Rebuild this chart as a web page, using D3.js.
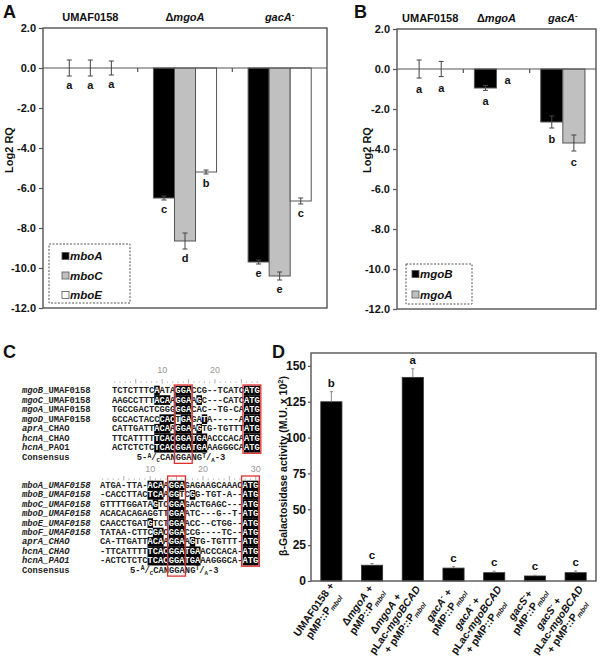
<!DOCTYPE html>
<html><head><meta charset="utf-8">
<script src="https://cdn.jsdelivr.net/npm/d3@7"></script>
<style>body{margin:0;background:#fff}svg{display:block}</style>
</head><body>
<svg id="fig" width="600" height="656"></svg>
<script>
// ================= DATA =================
// Panel A
const groupsA = ["UMAF0158", "Δ*mgoA*", "*gacA*^-^"];
const seriesA = ["mboA", "mboC", "mboE"];
const mboA = [0, -6.5, -9.7];
const mboC = [0, -8.65, -10.4];
const mboE = [0, -5.2, -6.65];
const errMboA = [0.4, 0.1, 0.1];
const errMboC = [0.4, 0.4, 0.2];
const errMboE = [0.35, 0.1, 0.15];
const letMboA = ["a", "c", "e"];
const letMboC = ["a", "d", "e"];
const letMboE = ["a", "b", "c"];
// Panel B
const groupsB = ["UMAF0158", "Δ*mgoA*", "*gacA*^-^"];
const seriesB = ["mgoB", "mgoA"];
const mgoB = [0, -0.95, -2.65];
const mgoA = [0, 0, -3.7];
const errMgoB = [0.45, 0.12, 0.3];
const errMgoA = [0.38, 0, 0.4];
const letMgoB = ["a", "a", "b"];
const letMgoA = ["a", "a", "c"];
const rqTicks = [-12, -10, -8, -6, -4, -2, 0, 2];
// Panel C
const topNames = ["*mgoB*_UMAF0158", "*mgoC*_UMAF0158", "*mgoA*_UMAF0158", "*mgoD*_UMAF0158", "*aprA*_CHAO", "*hcnA*_CHAO", "*hcnA*_PAO1"];
const topSeqs = [
  "TCTCTTTCAATAGGACCG--TCATCATG",
  "AAGCCTTTACAAGGAAGC---CATCATG",
  "TGCCGACTCGGGGGACAC--TG-CAATG",
  "GCCACTACCCACTGAGATA-----AATG",
  "CATTGATTACAAGGAAGTG-TGTTTATG",
  "TTCATTTTTCACGGATGAACCCACAATG",
  "ACTCTCTCTCACGGATGAAAGGGCAATG"];
const topMasks = [
  "........x...xxx..........xxx",
  "........xxx.xxx.x........xxx",
  "............xxx..........xxx",
  ".........xxx.xx..x.......xxx",
  "........xxx.xxx.x........xxx",
  "........xxxxxxxxxx.......xxx",
  "........xxxxxxxxxx.......xxx"];
const botNames = ["*mboA_UMAF0158*", "*mboB_UMAF0158*", "*mboC_UMAF0158*", "*mboD_UMAF0158*", "*mboE_UMAF0158*", "*mboF_UMAF0158*", "*aprA_CHAO*", "*hcnA_CHAO*", "*hcnA_PAO1*"];
const botSeqs = [
  "ATGA-TTA-ACAAGGAGAGAAGCAAACATG",
  "-CACCTTACTCAAGGTCGG-TGT-A--ATG",
  "GTTTTGGATAGTCGGAGACTGAGC---ATG",
  "ACACACAGAGGTTGGAATC---G--T-ATG",
  "CAACCTGATGTCTGGAACC--CTGG--ATG",
  "TATAA-CTTCGACGGACCG----TC--ATG",
  "CA-TTGATTACAAGGAAGTG-TGTTT-ATG",
  "-TTCATTTTTCACGGATGAACCCACA-ATG",
  "-ACTCTCTCTCACGGATGAAAGGGCA-ATG"];
const botMasks = [
  ".........xxx.xxx...........xxx",
  ".........xxx.xx..x.........xxx",
  "..........x..xxx...........xxx",
  ".............xxx...........xxx",
  ".........x...xxx...........xxx",
  "..........xx.xxx...........xxx",
  ".........xxx.xxx.x.........xxx",
  ".........xxxxxxxxxx........xxx",
  ".........xxxxxxxxxx........xxx"];
const consensus = "5-^A^/~C~CANGGANG^T^/~A~-3";
const topRulerNums = [10, 20];
const botRulerNums = [10, 20, 30];
const topBoxes = [[13, 15, true], [26, 28, false]];
const botBoxes = [[14, 16, true], [28, 30, false]];
// Panel D
const dLabels = [
  ["UMAF0158 +", "pMP::P~*mbol*~"],
  ["Δ*mgoA* +", "pMP::P~*mbol*~"],
  ["Δ*mgoA* +", "pLac-*mgoBCAD*", "+ pMP::P~*mbol*~"],
  ["*gacA*^-^ +", "pMP::P~*mbol*~"],
  ["*gacA*^-^ +", "pLac-*mgoBCAD*", "+ pMP::P~*mbol*~"],
  ["*gacS*^-^+", "pMP::P~*mbol*~"],
  ["*gacS*^-^ +", "pLac-*mgoBCAD*", "+ pMP::P~*mbol*~"]];
const dValues = [125, 11, 142, 9, 5.8, 3.5, 5.8];
const dErr = [7, 1.2, 6, 1, 1, 0.5, 1.2];
const dLetters = ["b", "c", "a", "c", "c", "c", "c"];
const dTicks = [0, 25, 50, 75, 100, 125, 150];

// ================= HELPERS =================
const SANS = "'Liberation Sans', Arial, sans-serif";
const MONO = "'Liberation Mono', 'Courier New', monospace";
const FRAME = "#555";
const TXT = "#111";
const svg = d3.select("#fig");

function parseRich(str) {
  const runs = []; let it = false, sup = false, sub = false, cur = "";
  const push = () => { if (cur) runs.push({t: cur, it, sup, sub}); cur = ""; };
  for (const ch of str) {
    if (ch === "*") { push(); it = !it; }
    else if (ch === "^") { push(); sup = !sup; }
    else if (ch === "~") { push(); sub = !sub; }
    else cur += ch;
  }
  push(); return runs;
}
function rich(text, str, size, supK = 0.38) {
  let shift = 0;
  parseRich(str).forEach(r => {
    const ts = text.append("tspan").text(r.t);
    if (r.it) ts.attr("font-style", "italic");
    let tgt = 0;
    if (r.sup) { tgt = -size * supK; ts.attr("font-size", size * 0.72); }
    if (r.sub) { tgt = size * 0.22; ts.attr("font-size", size * 0.65); }
    if (tgt - shift !== 0) ts.attr("dy", tgt - shift);
    shift = tgt;
  });
  return text;
}
function panelLetter(x, y, t) {
  svg.append("text").attr("x", x).attr("y", y).attr("font-family", SANS).attr("font-weight", "bold")
    .attr("font-size", 18).attr("fill", TXT).text(t);
}

// ================= PANELS A & B =================
function drawRQ(c) {
  const g = svg.append("g").attr("font-family", SANS).attr("font-weight", "bold").attr("fill", TXT);
  const y = d3.scaleLinear().domain([-12, 2]).range([c.yBot, c.yTop]);
  const xg = d3.scaleBand().domain(c.groups).range([c.xL, c.xR]);
  const xs = d3.scaleBand().domain(c.series).range([0, xg.bandwidth()]).paddingOuter(c.pad);

  const ax = g.append("g").attr("transform", `translate(${c.xL},0)`)
    .call(d3.axisLeft(y).tickValues(rqTicks).tickFormat(v => v.toFixed(1)).tickSize(4).tickPadding(3));
  ax.select(".domain").remove();
  ax.selectAll("line").attr("stroke", FRAME).attr("stroke-width", 1.2);
  ax.selectAll("text").attr("font-size", 11).attr("font-family", SANS).attr("font-weight", "bold").attr("fill", TXT);

  c.series.forEach((s, si) => c.groups.forEach((gr, gi) => {
    const v = c.values[si][gi];
    if (v === 0) return;
    g.append("rect").attr("x", xg(gr) + xs(s)).attr("y", y(0)).attr("width", xs.bandwidth())
      .attr("height", y(v) - y(0)).attr("fill", c.fills[si]).attr("stroke", FRAME).attr("stroke-width", 1);
  }));
  g.append("rect").attr("x", c.xL).attr("y", c.yTop).attr("width", c.xR - c.xL).attr("height", c.yBot - c.yTop)
    .attr("fill", "none").attr("stroke", FRAME).attr("stroke-width", 1.4);
  g.append("line").attr("x1", c.xL).attr("x2", c.xR).attr("y1", y(0)).attr("y2", y(0))
    .attr("stroke", FRAME).attr("stroke-width", 1.2);
  c.groups.forEach((gr, gi) => {
    if (gi === 0) return;
    g.append("line").attr("x1", xg(gr)).attr("x2", xg(gr)).attr("y1", y(0)).attr("y2", y(0) + 4)
      .attr("stroke", FRAME).attr("stroke-width", 1.2);
  });
  c.series.forEach((s, si) => c.groups.forEach((gr, gi) => {
    const v = c.values[si][gi], e = c.errors[si][gi];
    const cx = xg(gr) + xs(s) + xs.bandwidth() / 2;
    if (e > 0) {
      const col = "#444";
      g.append("line").attr("x1", cx).attr("x2", cx).attr("y1", y(v + e)).attr("y2", y(v - e)).attr("stroke", col).attr("stroke-width", 1);
      [v + e, v - e].forEach(t => g.append("line").attr("x1", cx - 2.5).attr("x2", cx + 2.5)
        .attr("y1", y(t)).attr("y2", y(t)).attr("stroke", col).attr("stroke-width", 1));
    }
    g.append("text").attr("x", cx).attr("y", y(v - e) + c.letterOff).attr("text-anchor", "middle")
      .attr("font-size", 11).text(c.letters[si][gi]);
  }));
  c.groups.forEach(gr => {
    rich(g.append("text").attr("x", xg(gr) + xg.bandwidth() / 2).attr("y", c.yTop - 7)
      .attr("text-anchor", "middle").attr("font-size", 11), gr, 11);
  });
  g.append("text").attr("transform", `translate(${c.yLabelX},${c.yLabelY}) rotate(-90)`)
    .attr("text-anchor", "middle").attr("font-size", 11).text("Log2 RQ");
  const L = c.legend;
  g.append("rect").attr("x", L.x).attr("y", L.y).attr("width", L.w).attr("height", L.h)
    .attr("fill", "none").attr("stroke", FRAME).attr("stroke-width", 1).attr("stroke-dasharray", "2,1.5");
  c.series.forEach((s, si) => {
    const cy = L.y + L.row0 + si * L.step;
    g.append("rect").attr("x", L.x + L.padX).attr("y", cy - 3.5).attr("width", 7).attr("height", 7)
      .attr("fill", c.fills[si]).attr("stroke", FRAME).attr("stroke-width", 0.8);
    g.append("text").attr("x", L.x + L.padX + 8).attr("y", cy + 4).attr("font-size", 11.5)
      .attr("font-style", "italic").text(s);
  });
}

drawRQ({
  groups: groupsA, series: seriesA,
  values: [mboA, mboC, mboE], errors: [errMboA, errMboC, errMboE], letters: [letMboA, letMboC, letMboE],
  fills: ["#000", "#c0c0c0", "#fff"],
  xL: 43, xR: 327, yTop: 28, yBot: 308, pad: 0.75, letterOff: 13,
  yLabelX: 13, yLabelY: 150,
  legend: {x: 49, y: 244, w: 81, h: 59, row0: 12, step: 19.5, padX: 13}
});
drawRQ({
  groups: groupsB, series: seriesB,
  values: [mgoB, mgoA], errors: [errMgoB, errMgoA], letters: [letMgoB, letMgoA],
  fills: ["#000", "#c0c0c0"],
  xL: 397, xR: 596, yTop: 29, yBot: 309, pad: 0.5, letterOff: 15,
  yLabelX: 371, yLabelY: 150,
  legend: {x: 406, y: 264, w: 66, h: 40, row0: 10, step: 20.5, padX: 6}
});
panelLetter(3, 18, "A");
panelLetter(354, 18, "B");

// ================= PANEL C =================
const CW = 5.28;
function drawAlign(b) {
  const g = svg.append("g");
  b.nums.forEach(n => g.append("text").attr("x", b.x0 + (n - 0.5) * CW).attr("y", b.numY)
    .attr("text-anchor", "middle").attr("font-family", SANS).attr("font-size", 9).attr("fill", "#999").text(n));
  for (let i = 1; i <= b.len; i++) {
    const cx = b.x0 + (i - 0.5) * CW;
    if (i % 5 === 0) g.append("line").attr("x1", cx).attr("x2", cx).attr("y1", b.rulerY - 3).attr("y2", b.rulerY + 1.5)
      .attr("stroke", "#999").attr("stroke-width", 0.8);
    else g.append("circle").attr("cx", cx).attr("cy", b.rulerY).attr("r", 0.6).attr("fill", "#888");
  }
  b.names.forEach((nm, ri) => {
    const yb = b.y0 + ri * b.dy;
    rich(g.append("text").attr("x", 22).attr("y", yb).attr("font-family", MONO).attr("font-weight", "bold")
      .attr("font-size", 8.8).attr("fill", "#222"), nm, 8.8);
    const seq = b.seqs[ri], mask = b.masks[ri];
    for (let i = 0; i < seq.length; i++) {
      const hi = mask[i] === "x";
      const x = b.x0 + i * CW;
      if (hi) g.append("rect").attr("x", x).attr("y", yb - 7.3).attr("width", CW + 0.2).attr("height", 9.6).attr("fill", "#000");
      g.append("text").attr("x", x + CW / 2).attr("y", yb).attr("text-anchor", "middle")
        .attr("font-family", MONO).attr("font-weight", "bold").attr("font-size", 8.8)
        .attr("fill", hi ? "#fff" : "#222").text(seq[i]);
    }
  });
  const cyb = b.y0 + b.names.length * b.dy;
  rich(g.append("text").attr("x", 22).attr("y", cyb).attr("font-family", MONO).attr("font-weight", "bold")
    .attr("font-size", 8.8).attr("fill", "#222"), "Consensus", 8.8);
  rich(g.append("text").attr("x", b.x0 + (b.consAt - 1) * CW - 7.3 * CW).attr("y", cyb).attr("font-family", MONO)
    .attr("font-weight", "bold").attr("font-size", 8.8).attr("fill", "#222"), consensus, 8.8, 0.25);
  b.boxes.forEach(([s, e, withCons]) => {
    const yEnd = withCons ? cyb + 3.5 : cyb - b.dy + 3;
    g.append("rect").attr("x", b.x0 + (s - 1) * CW - 1).attr("y", b.boxTop)
      .attr("width", (e - s + 1) * CW + 2).attr("height", yEnd - b.boxTop)
      .attr("fill", "none").attr("stroke", "#e0302e").attr("stroke-width", 1.3);
  });
}
drawAlign({names: topNames, seqs: topSeqs, masks: topMasks, nums: topRulerNums, len: 28,
  x0: 112, y0: 393, dy: 9.55, numY: 373, rulerY: 382, boxTop: 385, boxes: topBoxes, consAt: 13});
drawAlign({names: botNames, seqs: botSeqs, masks: botMasks, nums: botRulerNums, len: 30,
  x0: 100, y0: 488, dy: 9.4, numY: 472, rulerY: 479, boxTop: 476, boxes: botBoxes, consAt: 14});
panelLetter(3, 358, "C");

// ================= PANEL D =================
(function () {
  const g = svg.append("g").attr("font-family", SANS).attr("font-weight", "bold").attr("fill", TXT);
  const xL = 311, xR = 596, yTop = 353, yBot = 581;
  const x = d3.scaleBand().domain(d3.range(dValues.length)).range([xL, xR]).paddingInner(0.48).paddingOuter(0.24);
  const y = d3.scaleLinear().domain([0, 159]).range([yBot, yTop]);
  const ax = g.append("g").attr("transform", `translate(${xL},0)`)
    .call(d3.axisLeft(y).tickValues(dTicks).tickSize(3).tickPadding(2));
  ax.select(".domain").remove();
  ax.selectAll("line").attr("stroke", FRAME).attr("stroke-width", 1.2);
  ax.selectAll("text").attr("font-size", 12).attr("font-family", SANS).attr("font-weight", "bold").attr("fill", TXT);

  dValues.forEach((v, i) => {
    const cx = x(i) + x.bandwidth() / 2;
    g.append("rect").attr("x", x(i)).attr("y", y(v)).attr("width", x.bandwidth()).attr("height", y(0) - y(v))
      .attr("fill", "#000").attr("stroke", "#333").attr("stroke-width", 0.8);
    g.append("line").attr("x1", cx).attr("x2", cx).attr("y1", y(v)).attr("y2", y(v + dErr[i])).attr("stroke", "#888").attr("stroke-width", 1);
    g.append("line").attr("x1", cx - 1.5).attr("x2", cx + 1.5).attr("y1", y(v + dErr[i])).attr("y2", y(v + dErr[i])).attr("stroke", "#888").attr("stroke-width", 1);
    g.append("text").attr("x", cx).attr("y", y(v + dErr[i]) - 5).attr("text-anchor", "middle").attr("font-size", 11.5).text(dLetters[i]);
  });
  g.append("rect").attr("x", xL).attr("y", yTop).attr("width", xR - xL).attr("height", yBot - yTop)
    .attr("fill", "none").attr("stroke", FRAME).attr("stroke-width", 1.4);

  const LH = 11.3, FS = 10.5;
  dLabels.forEach((lines, i) => {
    const cx = x(i) + x.bandwidth() / 2;
    const lg = g.append("g").attr("transform", `translate(${cx + 8},${yBot + 8}) rotate(-55)`);
    const texts = lines.map((ln, li) => rich(lg.append("text").attr("y", (li - (lines.length - 1) / 2) * LH)
      .attr("text-anchor", "middle").attr("font-size", FS), ln, FS));
    const maxW = d3.max(texts, t => t.node().getComputedTextLength());
    texts.forEach(t => t.attr("x", -maxW / 2));
  });
  rich(g.append("text").attr("transform", `translate(287,466) rotate(-90)`).attr("text-anchor", "middle")
    .attr("font-size", 10.5), "β-Galactosidase activity (M.U. x 10^2^)", 10.5);
})();
panelLetter(272, 358, "D");
</script>
</body></html>
